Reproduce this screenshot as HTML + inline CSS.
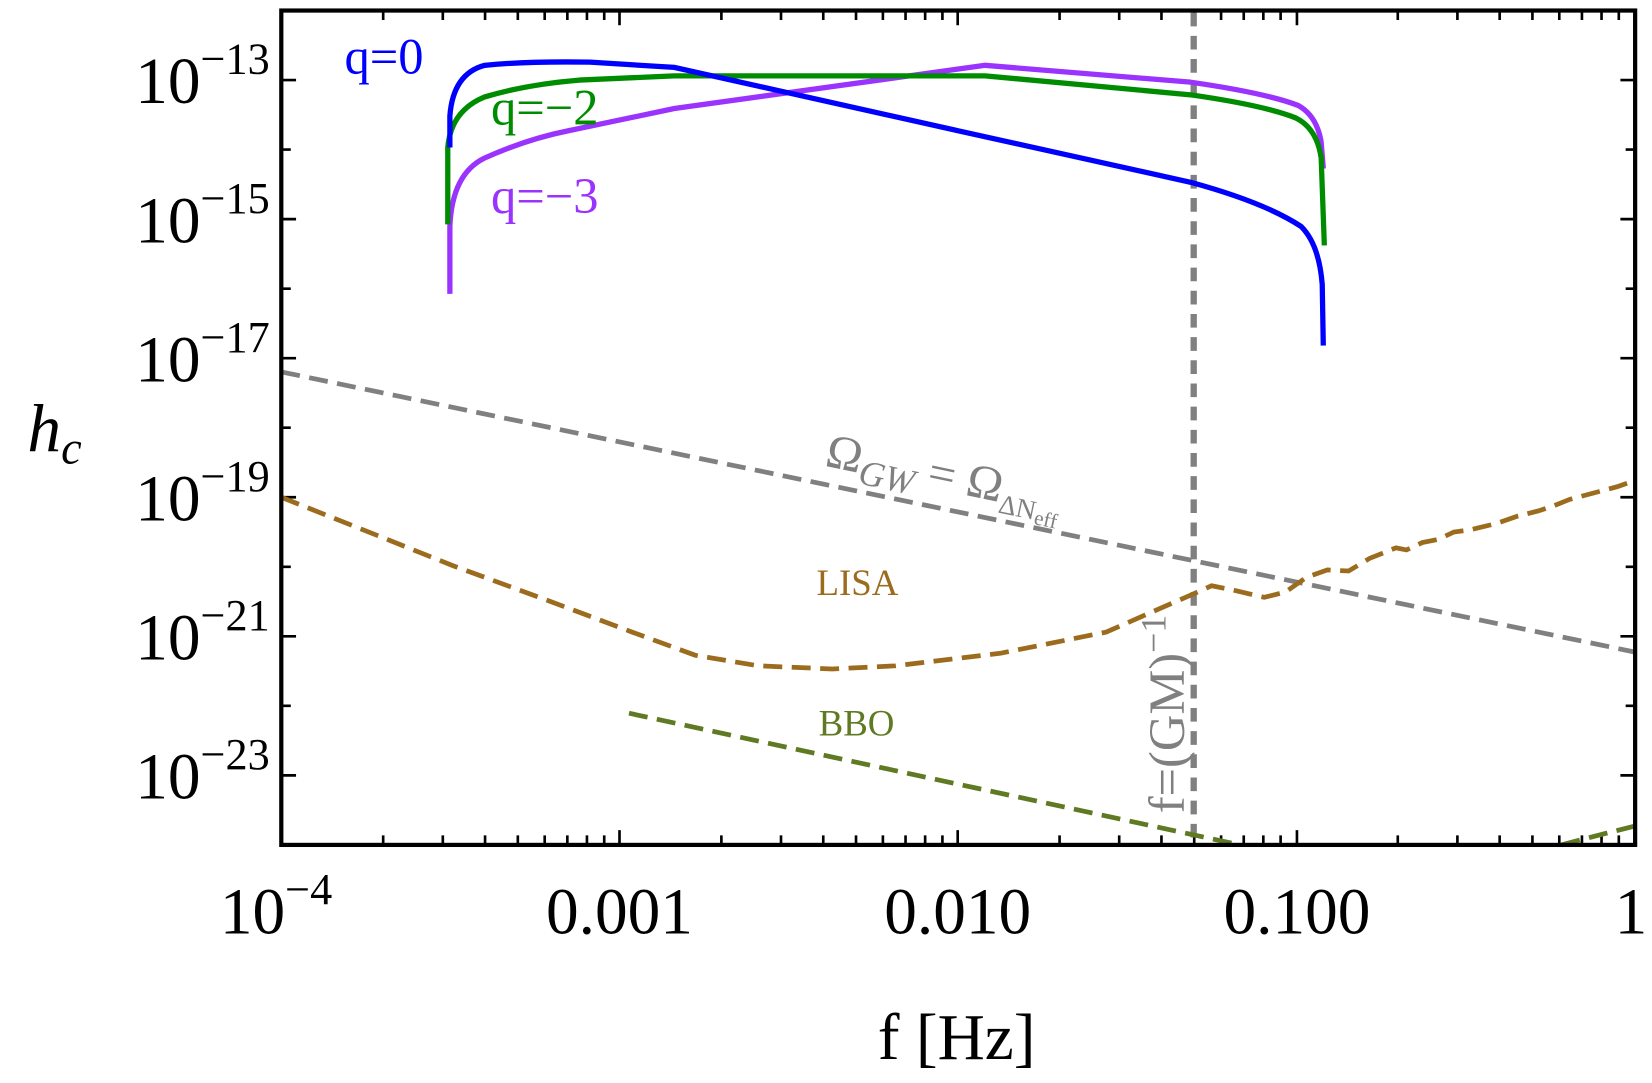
<!DOCTYPE html>
<html><head><meta charset="utf-8"><style>
html,body{margin:0;padding:0;background:#fff;}
svg{display:block;}
text{font-family:"Liberation Serif",serif;}
</style></head><body>
<svg width="1652" height="1083" viewBox="0 0 1568 1028" preserveAspectRatio="none" xmlns="http://www.w3.org/2000/svg">
<g stroke="#000" stroke-width="2.5" fill="none">
<path d="M267,802v-14M588,802v-14M909,802v-14M1231,802v-14M267,10v14M588,10v14M909,10v14M1231,10v14"/>
<path id="mx" d="
M363.7,802v-9M420.3,802v-9M460.4,802v-9M491.5,802v-9M517,802v-9M538.5,802v-9M557.1,802v-9M573.5,802v-9
M684.7,802v-9M741.3,802v-9M781.4,802v-9M812.5,802v-9M838,802v-9M859.5,802v-9M878.1,802v-9M894.5,802v-9
M1005.7,802v-9M1062.3,802v-9M1102.4,802v-9M1133.5,802v-9M1159,802v-9M1180.5,802v-9M1199.1,802v-9M1215.5,802v-9
M1326.7,802v-9M1383.3,802v-9M1423.4,802v-9M1454.5,802v-9M1480,802v-9M1501.5,802v-9M1520.1,802v-9M1536.5,802v-9"/>
<use href="#mx" transform="translate(0,812) scale(1,-1)"/>
<path d="M267,76h14M267,208h14M267,340h14M267,472h14M267,604h14M267,736h14
M267,142h9M267,274h9M267,406h9M267,538h9M267,670h9
M1552,76h-14M1552,208h-14M1552,340h-14M1552,472h-14M1552,604h-14M1552,736h-14
M1552,142h-9M1552,274h-9M1552,406h-9M1552,538h-9M1552,670h-9"/>
</g>
<line x1="1133" y1="12" x2="1133" y2="800" stroke="#808080" stroke-width="6" stroke-dasharray="13,9"/>
<line x1="267" y1="353" x2="1552" y2="619" stroke="#808080" stroke-width="4.5" stroke-dasharray="18,9"/>
<path d="M267,472 L350,505 L430,537 L520,570 L600,600 L660,622 L720,632 L790,635 L850,632 L950,620 L1050,600 L1100,578 L1130,565 L1150,556 L1170,560 L1200,567 L1220,562 L1240,548 L1260,541 L1280,542 L1300,530 L1315,524 L1325,520 L1335,522 L1350,515 L1365,512 L1380,505 L1395,503 L1420,497 L1440,490 L1460,485 L1475,480 L1490,474 L1505,470 L1520,466 L1535,462 L1552,456" fill="none" stroke="#9c6c1e" stroke-width="4.5" stroke-dasharray="18,9"/>
<path d="M597,677 L1177,802" fill="none" stroke="#5f7a22" stroke-width="4.5" stroke-dasharray="18,9"/>
<path d="M1482,802 Q1520,792 1552,784" fill="none" stroke="#5f7a22" stroke-width="4.5" stroke-dasharray="18,9"/>
<path d="M427,279 L427,215 Q429,165 460,150 Q500,132 540,124 L640,103 L935,62 L1130,78 Q1200,88 1232,100 Q1250,110 1254,135 L1256,160" fill="none" stroke="#9b33ff" stroke-width="5"/>
<path d="M425,213 L425,140 Q428,105 460,92 Q500,80 550,76 L640,72 L935,72 L1130,90 Q1200,100 1230,112 Q1250,122 1254,150 L1257,233" fill="none" stroke="#008c00" stroke-width="5"/>
<path d="M427,140 L427,110 Q430,70 460,62 Q500,58 560,59 L640,64 L909,124 L1130,173 Q1200,192 1235,215 Q1252,232 1255,270 L1256,328" fill="none" stroke="#0000ff" stroke-width="5"/>
<rect x="267" y="10" width="1285" height="792" fill="none" stroke="#000" stroke-width="4"/>
<text x="327" y="70" font-size="48" fill="#0000ff">q=0</text>
<text x="466" y="118" font-size="48" fill="#008c00">q=−2</text>
<text x="466" y="202" font-size="48" fill="#9b33ff">q=−3</text>
<text x="775" y="565" font-size="35" fill="#9c6c1e">LISA</text>
<text x="777" y="698" font-size="35" fill="#5f7a22">BBO</text>
<text transform="translate(782,442) rotate(11.7)" font-size="46" fill="#808080">Ω<tspan font-size="34" font-style="italic" dy="10">GW</tspan><tspan dy="-10"> = Ω</tspan><tspan font-size="26" dy="10">ΔN</tspan><tspan font-size="20" dy="4">eff</tspan></text>
<text transform="translate(1124,772) rotate(-90)" font-size="48" fill="#808080">f=(GM)<tspan font-size="34" dy="-18">−1</tspan></text>
<g font-size="62" fill="#000" text-anchor="end">
<text x="256" y="98">10<tspan font-size="42" dy="-28">−13</tspan></text>
<text x="256" y="230">10<tspan font-size="42" dy="-28">−15</tspan></text>
<text x="256" y="362">10<tspan font-size="42" dy="-28">−17</tspan></text>
<text x="256" y="494">10<tspan font-size="42" dy="-28">−19</tspan></text>
<text x="256" y="626">10<tspan font-size="42" dy="-28">−21</tspan></text>
<text x="256" y="758">10<tspan font-size="42" dy="-28">−23</tspan></text>
</g>
<g font-size="62" fill="#000" text-anchor="middle">
<text x="262" y="886">10<tspan font-size="42" dy="-28">−4</tspan></text>
<text x="588" y="886">0.001</text>
<text x="909" y="886">0.010</text>
<text x="1231" y="886">0.100</text>
<text x="1548" y="886">1</text>
<text x="908" y="1005">f [Hz]</text>
</g>
<text x="26" y="428" font-size="64" font-style="italic">h<tspan font-size="44" dy="12">c</tspan></text>
</svg>
</body></html>
